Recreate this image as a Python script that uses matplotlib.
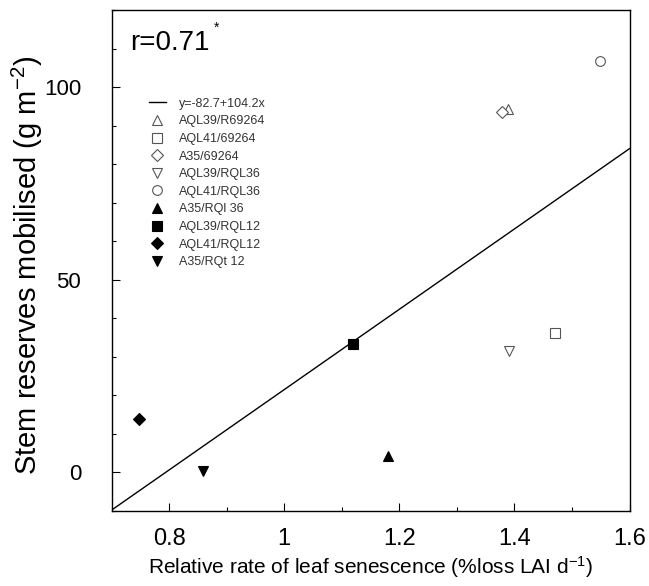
import numpy as np
import matplotlib
matplotlib.use("Agg")
import matplotlib.pyplot as plt
from matplotlib.ticker import MultipleLocator

plt.rcParams["font.family"] = ["Liberation Sans", "DejaVu Sans"]
plt.rcParams["mathtext.fontset"] = "custom"
plt.rcParams["mathtext.rm"] = "Liberation Sans"
plt.rcParams["mathtext.it"] = "Liberation Sans"
plt.rcParams["mathtext.default"] = "regular"

# Données
labels = ["AQL39/R69264", "AQL41/69264", "A35/69264", "AQL39/RQL36", "AQL41/RQL36",
          "A35/RQl 36", "AQL39/RQL12", "AQL41/RQL12", "A35/RQt 12"]
senescence = [1.389, 1.471, 1.378, 1.390, 1.548, 1.180, 1.119, 0.748, 0.859]
reserves = [94.4, 36.3, 93.5, 31.4, 106.7, 4.2, 33.3, 13.9, 0.3]
markers = ["^", "s", "D", "v", "o", "^", "s", "D", "v"]
filled = [False, False, False, False, False, True, True, True, True]

# Régression
intercept = -82.7
slope = 104.2

fig = plt.figure(figsize=(6.49, 5.86), dpi=100)
ax = fig.add_axes([0.172, 0.128, 0.798, 0.855])

xs = np.array([0.7, 1.6])
ax.plot(xs, intercept + slope * xs, color="black", lw=1.0,
        label=f"y={intercept}+{slope}x")

for x, y, m, f, lab in zip(senescence, reserves, markers, filled, labels):
    ms = 6 if m == "D" else 7
    ax.plot([x], [y], linestyle="none", marker=m, markersize=ms,
            markerfacecolor="black" if f else "white",
            markeredgecolor="black" if f else "#555555",
            markeredgewidth=0.8, label=lab)

ax.set_xlim(0.7, 1.6)
ax.set_ylim(-10, 120)
ax.xaxis.set_minor_locator(MultipleLocator(0.1))
ax.yaxis.set_major_locator(MultipleLocator(50))
ax.yaxis.set_minor_locator(MultipleLocator(10))
ax.set_xticks([0.8, 1.0, 1.2, 1.4, 1.6])
ax.set_xticklabels(["0.8", "1", "1.2", "1.4", "1.6"])
ax.tick_params(which="major", direction="in", length=6, width=0.8)
ax.tick_params(which="minor", direction="in", length=3, width=0.8)
ax.tick_params(axis="x", labelsize=17, pad=12)
ax.tick_params(axis="y", labelsize=16, pad=22)
for s in ax.spines.values():
    s.set_linewidth(1.0)

ax.set_xlabel("Relative rate of leaf senescence (%loss LAI d$^{-1}$)", fontsize=15, labelpad=3)
ax.set_ylabel("Stem reserves mobilised (g m$^{-2}$)", fontsize=21)
ax.yaxis.set_label_coords(-0.128, 0.49)

ax.text(0.035, 0.935, "r=0.71", transform=ax.transAxes, fontsize=20, va="center")
ax.text(0.197, 0.965, "*", transform=ax.transAxes, fontsize=10, va="center")

ax.legend(loc="upper left", bbox_to_anchor=(0.062, 0.835), frameon=False, fontsize=9,
          borderaxespad=0, handlelength=1.4, handletextpad=1.0, labelspacing=0.45,
          labelcolor="#333333")

fig.savefig("out.png", dpi=100)
